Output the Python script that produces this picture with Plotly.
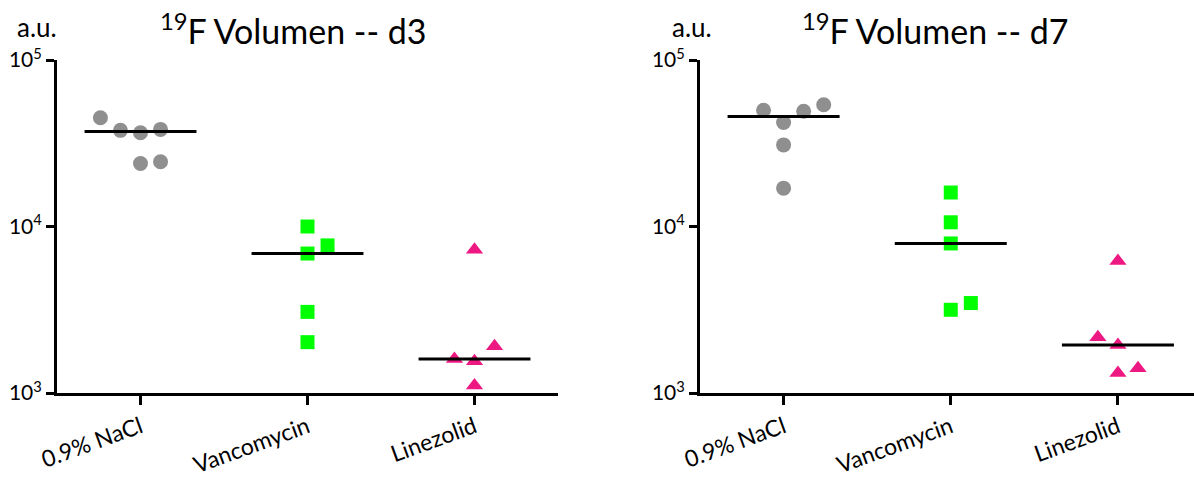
import plotly.graph_objects as go

categories = ["0.9% NaCl", "Vancomycin", "Linezolid"]

# Day 3 values (a.u.)
d3_nacl = [45000, 37800, 36600, 38300, 23900, 24500]
d3_vanco = [10000, 7700, 6880, 3070, 2020]
d3_line = [7240, 1600, 1550, 1910, 1110]
d3_medians = [37200, 6880, 1600]

# Day 7 values (a.u.)
d7_nacl = [49900, 49200, 53900, 42100, 30900, 17000]
d7_vanco = [16000, 10600, 7910, 3470, 3160]
d7_line = [6200, 2160, 1940, 1410, 1320]
d7_medians = [45700, 7910, 1940]

# horizontal scatter offsets (in category units) as in the reference
d3_off = [[-0.24, -0.12, 0.0, 0.12, 0.0, 0.12],
          [0.0, 0.12, 0.0, 0.0, 0.0],
          [0.0, -0.12, 0.0, 0.12, 0.0]]
d7_off = [[-0.12, 0.12, 0.24, 0.0, 0.0, 0.0],
          [0.0, 0.0, 0.0, 0.12, 0.0],
          [0.0, -0.12, 0.0, 0.12, 0.0]]

titles = ["<sup>19</sup>F Volumen -- d3", "<sup>19</sup>F Volumen -- d7"]
tickvals = [1e3, 1e4, 1e5]
ticktext = ["10<sup>3</sup>", "10<sup>4</sup>", "10<sup>5</sup>"]

colors = ["#8f8f8f", "#00ff00", "#ee1882"]
symbols = ["circle", "square", "triangle-up"]
sizes = [15, 14, 15]

FONT = "Lato"

fig = go.Figure()

panels = [
    ([d3_nacl, d3_vanco, d3_line], d3_medians, d3_off, "x", "y"),
    ([d7_nacl, d7_vanco, d7_line], d7_medians, d7_off, "x2", "y2"),
]

for groups, medians, offs, xa, ya in panels:
    for i, vals in enumerate(groups):
        xs = [i + o for o in offs[i]]
        fig.add_trace(go.Scatter(
            x=xs, y=vals, mode="markers", xaxis=xa, yaxis=ya,
            marker=dict(symbol=symbols[i], color=colors[i], size=sizes[i], line=dict(width=0)),
            cliponaxis=False, showlegend=False, hoverinfo="y"))
    for i, m in enumerate(medians):
        fig.add_trace(go.Scatter(
            x=[i - 0.335, i + 0.335], y=[m, m], mode="lines", xaxis=xa, yaxis=ya,
            line=dict(color="black", width=3), showlegend=False, hoverinfo="y"))

W, H = 1194, 477
TOP, BOT = 60, 84
PH = H - TOP - BOT

ax_common = dict(
    showgrid=False, zeroline=False, showline=True, linecolor="black", linewidth=3,
    ticks="outside", tickwidth=3, tickcolor="black", automargin=False,
)

fig.update_layout(
    width=W, height=H,
    margin=dict(l=0, r=0, t=TOP, b=BOT, autoexpand=False),
    plot_bgcolor="white", paper_bgcolor="white",
    font=dict(family=FONT, color="black"),
    xaxis=dict(domain=[57 / W, 558 / W], range=[-0.5, 2.5], tickvals=[0, 1, 2],
               ticktext=categories, tickangle=-20, ticklen=9,
               tickfont=dict(size=23, family=FONT), anchor="y", **ax_common),
    yaxis=dict(type="log", range=[3, 5], tickvals=tickvals, ticktext=ticktext,
               ticklen=8, tickfont=dict(size=21, family=FONT), anchor="x", **ax_common),
    xaxis2=dict(domain=[700 / W, 1.0], range=[-0.5, 2.455], tickvals=[0, 1, 2],
                ticktext=categories, tickangle=-20, ticklen=9,
                tickfont=dict(size=23, family=FONT), anchor="y2", **ax_common),
    yaxis2=dict(type="log", range=[3, 5], tickvals=tickvals, ticktext=ticktext,
                ticklen=8, tickfont=dict(size=21, family=FONT), anchor="x2", **ax_common),
)

def py(pix):
    return 1 + (TOP - pix) / PH

# titles and unit labels
for title, cx, ux in [(titles[0], 293, 37), (titles[1], 935, 692)]:
    fig.add_annotation(text=title, x=cx / W, y=py(29), xref="paper", yref="paper",
                       xanchor="center", yanchor="middle", showarrow=False,
                       font=dict(size=34, family=FONT, color="black"))
    fig.add_annotation(text="a.u.", x=ux / W, y=py(27), xref="paper", yref="paper",
                       xanchor="center", yanchor="middle", showarrow=False,
                       font=dict(size=26, family=FONT, color="black"))

fig.write_html("out.html")
